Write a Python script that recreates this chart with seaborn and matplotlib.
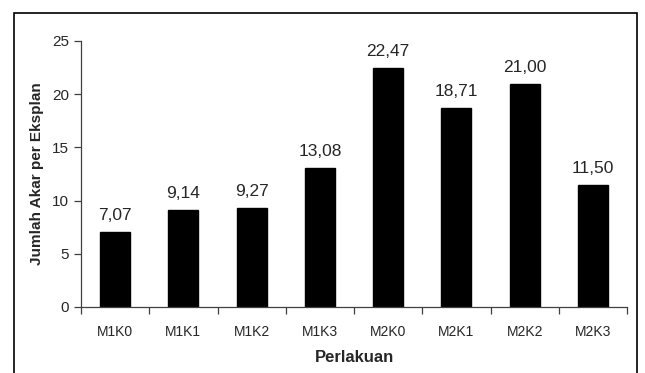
import matplotlib
matplotlib.use("Agg")
import matplotlib.pyplot as plt
import seaborn as sns
import numpy as np
import pandas as pd
from matplotlib.patches import Rectangle

categories = ["M1K0", "M1K1", "M1K2", "M1K3", "M2K0", "M2K1", "M2K2", "M2K3"]
values = [7.07, 9.14, 9.27, 13.08, 22.47, 18.71, 21.00, 11.50]
labels = ["7,07", "9,14", "9,27", "13,08", "22,47", "18,71", "21,00", "11,50"]
yticks = [0, 5, 10, 15, 20, 25]

sns.set_style("white")
plt.rcParams["font.family"] = ["Liberation Sans", "DejaVu Sans"]

fig = plt.figure(figsize=(6.45, 3.73), dpi=100)
ax = fig.add_axes([81/645, 1-307/373, (627-81)/645, (307-41)/373])

df = pd.DataFrame({"cat": categories, "val": values})
sns.barplot(data=df, x="cat", y="val", color="black", width=0.44, ax=ax,
            saturation=1, edgecolor="black")

axis_col = "#404040"
ax.set_xlim(-0.5, 7.5)
ax.set_ylim(0, 25)
ax.set_yticks(yticks)
ax.set_yticklabels([str(t) for t in yticks], fontsize=11)
ax.set_xticks(range(len(categories)))
ax.set_xticklabels(categories, fontsize=10)
ax.set_xticks(np.arange(-0.5, 8, 1), minor=True)
ax.tick_params(axis="x", which="major", length=0, pad=13, bottom=True)
ax.tick_params(axis="x", which="minor", length=5, width=0.9, direction="out",
               color=axis_col, bottom=True)
ax.tick_params(axis="y", length=5, width=0.9, direction="out", color=axis_col,
               pad=3.5, left=True)

for s in ["top", "right"]:
    ax.spines[s].set_visible(False)
for s in ["left", "bottom"]:
    ax.spines[s].set_color(axis_col)
    ax.spines[s].set_linewidth(0.9)

for i, (v, lab) in enumerate(zip(values, labels)):
    ax.text(i, v + 0.85, lab, ha="center", va="bottom", fontsize=12.5)

ax.set_xlabel("Perlakuan", fontsize=12, fontweight="bold", labelpad=8)
ax.set_ylabel("Jumlah Akar per Eksplan", fontsize=11, fontweight="bold", labelpad=6)

fig.patches.append(Rectangle((14/645, -0.05), (637-14)/645, 1.05 - 13/373,
                             transform=fig.transFigure, fill=False,
                             edgecolor="black", linewidth=1.2))

fig.savefig("out.png", dpi=100)
